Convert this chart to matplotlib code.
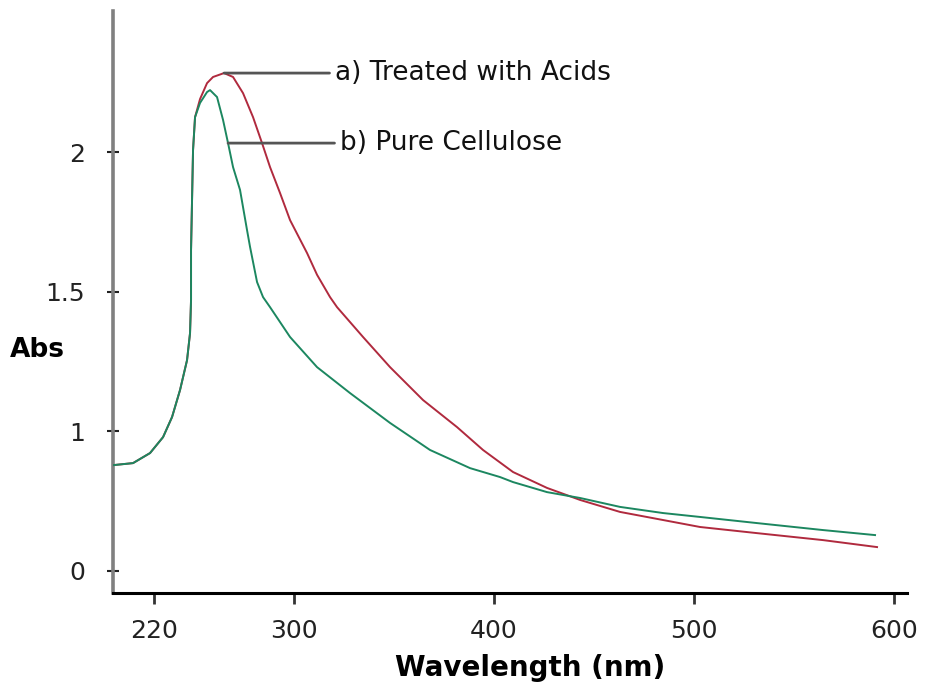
import matplotlib
matplotlib.use("Agg")
import matplotlib.pyplot as plt

# UV-Vis spectra
wl_acid = [210, 219.5, 228, 234.5, 239, 243, 246.5, 248, 248.5, 248.5, 249, 249.5, 250.5,
           253, 256.5, 259.5, 265, 269.5, 274.5, 279.5, 284, 288, 293, 298, 306.5, 311.5,
           318, 321.5, 334.5, 348, 364.5, 381.5, 394.5, 409.5, 426.5, 443, 463, 484.5,
           503, 531.5, 564.5, 591.5]
abs_acid = [0.878, 0.885, 0.921, 0.978, 1.050, 1.147, 1.254, 1.351, 1.470, 1.649, 1.828,
            2.007, 2.125, 2.19, 2.247, 2.269, 2.283, 2.269, 2.211, 2.125, 2.032, 1.946,
            1.853, 1.756, 1.638, 1.56, 1.480, 1.444, 1.337, 1.229, 1.111, 1.014, 0.932,
            0.853, 0.796, 0.753, 0.710, 0.681, 0.656, 0.634, 0.609, 0.584]

wl_pure = [210, 219.5, 228, 234.5, 239, 243, 246.5, 248, 248.5, 248.5, 249, 249.5, 250.5,
           253, 256.5, 258, 261.5, 264.5, 267, 269.5, 273, 276.5, 278, 281.5, 284.5, 288,
           298, 311.5, 328, 348, 368, 388, 403, 409.5, 426.5, 443, 463, 484.5, 503, 531.5,
           564.5, 590.5]
abs_pure = [0.878, 0.885, 0.921, 0.978, 1.050, 1.147, 1.254, 1.351, 1.470, 1.649, 1.828,
            2.007, 2.125, 2.176, 2.215, 2.222, 2.197, 2.115, 2.032, 1.946, 1.864, 1.720,
            1.66, 1.534, 1.480, 1.444, 1.337, 1.229, 1.136, 1.029, 0.932, 0.867, 0.835,
            0.817, 0.781, 0.760, 0.728, 0.706, 0.692, 0.670, 0.645, 0.627]

x_ticks = [230, 300, 400, 500, 600]
x_labels = ["220", "300", "400", "500", "600"]
y_ticks = [0.5, 1, 1.5, 2]
y_labels = ["0", "1", "1.5", "2"]

plt.rcParams['font.family'] = ['DejaVu Sans']

fig = plt.figure(figsize=(9.35, 6.85), dpi=100)
ax = fig.add_axes([0.1209, 0.1343, 0.8492, 0.8496])

ax.plot(wl_acid, abs_acid, color="#b02a3e", lw=1.4, zorder=3)
ax.plot(wl_pure, abs_pure, color="#1c8760", lw=1.4, zorder=3)

ax.set_xlim(209.5, 606.5)
ax.set_ylim(0.4194, 2.5054)

for s in ("top", "right"):
    ax.spines[s].set_visible(False)
ax.spines["left"].set_color("#808080")
ax.spines["left"].set_linewidth(2.6)
ax.spines["bottom"].set_color("black")
ax.spines["bottom"].set_linewidth(2.2)

ax.set_xticks(x_ticks)
ax.set_xticklabels(x_labels)
ax.set_yticks(y_ticks)
ax.set_yticklabels(y_labels)
ax.tick_params(axis="x", direction="out", length=8, width=2, color="#333333",
               labelsize=18, pad=11, colors="#222222")
ax.tick_params(axis="y", direction="inout", length=8, width=1.5, color="#222222",
               labelsize=18, pad=16, colors="#222222")

# leader lines to the curve labels
ax.annotate("a) Treated with Acids", xy=(265, 2.283), xytext=(320.5, 2.283),
            fontsize=19, va="center", ha="left", color="#111111",
            arrowprops=dict(arrowstyle="-", color="#555555", lw=2,
                            shrinkA=2, shrinkB=0))
ax.annotate("b) Pure Cellulose", xy=(267, 2.032), xytext=(323, 2.032),
            fontsize=19, va="center", ha="left", color="#111111",
            arrowprops=dict(arrowstyle="-", color="#555555", lw=2,
                            shrinkA=2, shrinkB=0))

fig.text(10 / 935, 1 - 350 / 685, "Abs", fontsize=19, fontweight="bold",
         ha="left", va="center")
fig.text(530 / 935, 1 - 668 / 685, "Wavelength (nm)", fontsize=20,
         fontweight="bold", ha="center", va="center")

fig.savefig("out.png", dpi=100)
